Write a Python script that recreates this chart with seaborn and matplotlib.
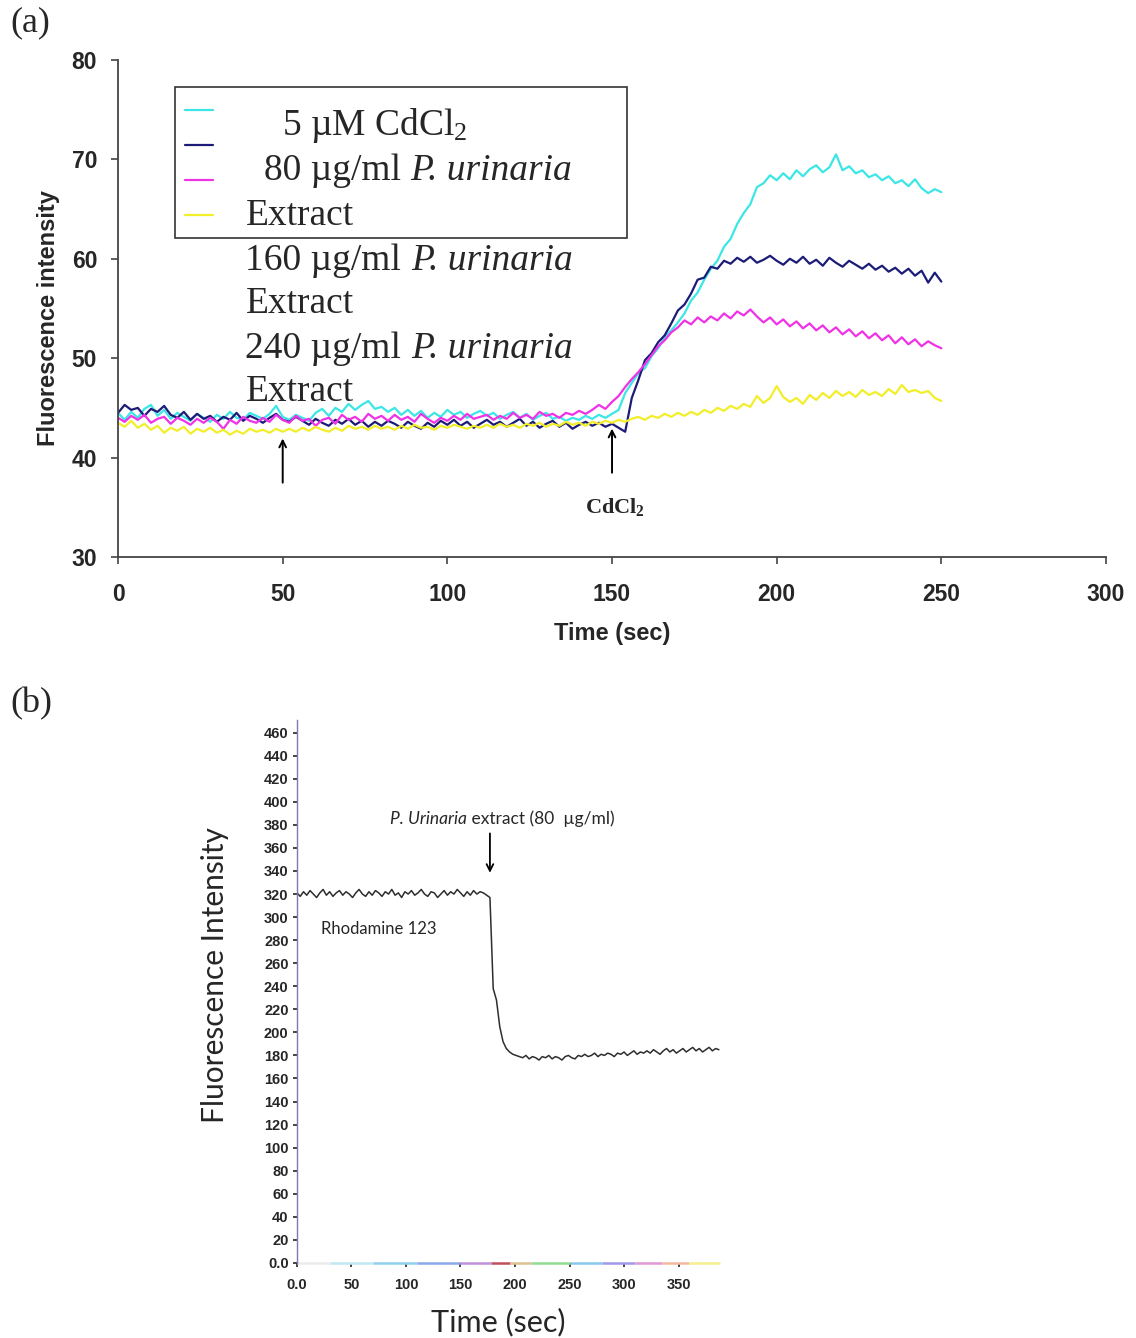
import numpy as np
import pandas as pd
import seaborn as sns
import matplotlib.pyplot as plt
from matplotlib.patches import Rectangle

# ---- panel (a) data: fluorescence vs time, one reading every 2 s ----
time_a = np.arange(0, 251, 2)

cdcl2_5um = [
    44.5, 43.8, 44.6, 44.0, 44.9, 45.3, 44.2, 44.8, 43.9, 44.5, 44.1,
    43.7, 44.4, 44.0, 43.6, 44.3, 43.9, 44.6, 44.0, 43.8, 44.5, 44.2, 43.9, 44.4, 45.2, 44.1,
    43.8, 44.3, 44.0, 43.7, 44.5, 44.9, 44.2, 45.0, 44.6, 45.4, 44.8, 45.3, 45.7, 44.9, 45.1,
    44.6, 45.0, 44.3, 44.8, 44.2, 44.7, 44.0, 44.5, 44.1, 44.8, 44.3, 44.6, 44.0, 44.4, 44.7,
    44.2, 44.5, 43.9, 44.3, 44.6, 44.0, 44.4, 43.8, 44.2, 44.5, 43.9, 44.1, 43.7, 44.0, 43.8,
    44.2, 43.9, 44.3, 44.0, 44.4,
    44.8, 46.5, 47.5, 48.5, 49.0, 50.2, 51.0, 52.1, 52.8, 53.6, 54.5, 55.8, 56.6, 57.9, 59.0,
    59.8, 61.2, 62.0, 63.5, 64.6, 65.5, 67.2, 67.6, 68.4, 67.9,
    68.6, 68.0, 68.9, 68.3, 69.0, 69.4, 68.7, 69.2, 70.5, 68.9, 69.3, 68.6, 68.9, 68.2, 68.5,
    67.9, 68.3, 67.6, 67.9, 67.3, 68.0, 67.1, 66.6, 67.0, 66.7,
]
ext_80 = [
    44.5, 45.3, 44.8, 45.0, 44.2, 44.9, 44.6, 45.2, 44.3, 44.0, 44.6,
    43.8, 44.4, 43.9, 44.2, 43.6, 44.1, 43.8, 44.5, 43.7, 44.2, 43.9, 43.5, 44.0, 44.4, 43.8,
    43.6, 44.1, 43.7, 43.3, 43.9, 43.5, 43.2, 43.8, 43.4, 43.9, 43.3, 43.7, 43.1, 43.6, 43.2,
    43.7, 43.4, 43.0, 43.6, 43.2, 42.9, 43.5, 43.1, 43.7, 43.3, 43.8, 43.2, 43.6, 43.0, 43.4,
    43.8, 43.3, 43.6, 43.1, 43.5, 43.9, 43.2, 43.6, 43.0, 43.4, 43.7, 43.1, 43.5, 42.9, 43.3,
    43.6, 43.2, 43.5, 43.1, 43.4,
    43.0, 42.6, 46.0, 47.8, 49.8, 50.5, 51.6, 52.3, 53.5, 54.8, 55.4, 56.5, 57.9, 58.1, 59.2,
    59.0, 59.8, 59.5, 60.1, 59.7, 60.2, 59.6, 59.9, 60.3, 59.8,
    59.4, 60.0, 59.6, 60.2, 59.5, 59.9, 59.3, 60.1, 59.6, 59.2, 59.8, 59.4, 59.0, 59.5, 58.9,
    59.3, 58.7, 59.1, 58.5, 59.0, 58.3, 58.8, 57.6, 58.6, 57.7,
]
ext_160 = [
    44.0, 43.6, 44.2, 43.8, 44.3, 43.5, 43.9, 44.1, 43.4, 44.0, 43.7,
    43.3, 43.9, 43.5, 44.0, 43.6, 42.9, 43.8, 43.4, 44.1, 43.7, 43.5, 44.0, 43.6, 44.3, 43.8,
    43.5, 44.2, 43.7, 43.9, 43.2, 43.8, 44.0, 43.4, 44.3, 43.8, 44.1, 43.6, 44.4, 43.9, 44.2,
    43.7, 44.3, 43.8, 44.1, 43.6, 44.4, 43.9, 43.5, 44.0, 43.7, 44.2, 43.8, 44.4, 43.9, 44.1,
    44.3, 43.8, 44.2, 43.9, 44.5, 44.0, 44.3, 43.9, 44.6, 44.2, 44.4, 44.0, 44.5, 44.3, 44.7,
    44.4, 44.8, 45.3, 44.9, 45.6,
    46.2, 47.1, 47.9, 48.6, 49.4, 50.3, 51.2, 51.8, 52.6, 53.1, 53.8, 53.4, 54.1, 53.6, 54.2,
    53.8, 54.5, 54.0, 54.7, 54.3, 54.9, 54.2, 53.6, 54.1, 53.4,
    53.9, 53.2, 53.7, 53.0, 53.5, 52.8, 53.3, 52.6, 53.1, 52.4, 52.9, 52.2, 52.7, 52.0, 52.5,
    51.8, 52.3, 51.5, 52.1, 51.4, 51.9, 51.2, 51.7, 51.3, 51.0,
]
ext_240 = [
    43.5, 43.1, 43.7, 43.0, 43.4, 42.8, 43.2, 42.5, 43.0, 42.7, 43.1,
    42.4, 42.9, 42.6, 43.0, 42.5, 42.8, 42.3, 42.7, 42.4, 42.9, 42.6, 42.8, 42.5, 42.9, 42.6,
    42.9, 42.6, 43.0, 42.7, 43.1, 42.8, 42.6, 43.0, 42.7, 43.2, 42.9, 43.1, 42.8, 43.2, 42.9,
    43.1, 42.8, 43.2, 42.9, 43.3, 43.0, 43.1, 42.8, 43.2, 43.0, 43.3, 43.1, 42.9, 43.2, 43.0,
    43.3, 43.0, 43.4, 43.1, 43.3, 43.0, 43.4, 43.2, 43.5, 43.1, 43.4, 43.2, 43.6, 43.3, 43.5,
    43.2, 43.6, 43.4, 43.7, 43.5,
    43.8, 43.6, 43.9, 44.1, 43.8, 44.2, 44.0, 44.4, 44.1, 44.5, 44.2, 44.6, 44.3, 44.8, 44.5,
    45.0, 44.7, 45.2, 44.9, 45.4, 45.1, 46.2, 45.5, 46.0, 47.2,
    46.1, 45.6, 46.0, 45.4, 46.3, 45.8, 46.5, 46.0, 46.7, 46.2, 46.6, 46.1, 46.8, 46.3, 46.6,
    46.2, 46.9, 46.4, 47.3, 46.6, 46.8, 46.5, 46.7, 46.0, 45.7,
]
series_names = ["5uM CdCl2", "80 ug/ml", "160 ug/ml", "240 ug/ml"]
series_colors = ["#3ce6e6", "#1c1c78", "#f032e6", "#f2ee2a"]

# ---- panel (b) data: rhodamine 123, one reading every 3 s ----
time_b = np.arange(0, 388, 3)
rhodamine = [
    321, 318, 322, 319, 323, 320, 317, 321, 324, 319,
    322, 318, 321, 323, 319, 322, 320, 317, 321, 324,
    320, 318, 322, 319, 323, 321, 318, 322, 320, 324,
    319, 321, 317, 322, 320, 323, 319, 321, 324, 320,
    318, 322, 321, 317, 320, 323, 319, 322, 320, 324,
    321, 318, 322, 319, 323, 320, 322, 321, 319,
    317, 238, 228, 205, 192, 186, 183, 181, 180,
    179, 178, 180, 177, 179, 178, 176, 179, 178, 180,
    177, 179, 178, 176, 179, 180, 178, 177, 180, 179,
    181, 179, 180, 182, 179, 181, 180, 182, 181, 179,
    182, 181, 183, 180, 182, 184, 181, 183, 182, 184,
    182, 185, 183, 181, 184, 186, 183, 185, 182, 184,
    186, 183, 185, 187, 184, 186, 183, 185, 187, 184,
    186, 185,
]
yticks_b = list(range(0, 461, 20))
ytick_labels_b = ["0.0"] + [str(v) for v in yticks_b[1:]]
xticks_b = list(range(0, 351, 50))
xtick_labels_b = ["0.0"] + [str(v) for v in xticks_b[1:]]

df_a = pd.DataFrame({
    "time": np.tile(time_a, 4),
    "value": cdcl2_5um + ext_80 + ext_160 + ext_240,
    "series": np.repeat(series_names, len(time_a)),
})
df_b = pd.DataFrame({"time": time_b, "value": rhodamine})

sns.set_theme(style="ticks")
plt.rcParams["font.family"] = ["Liberation Sans", "DejaVu Sans"]
plt.rcParams["mathtext.fontset"] = "custom"
plt.rcParams["mathtext.rm"] = "Liberation Serif"
plt.rcParams["mathtext.it"] = "Liberation Serif:italic"
plt.rcParams["mathtext.bf"] = "Liberation Serif:bold"

fig = plt.figure(figsize=(11.36, 13.38), dpi=100)
renderer = fig.canvas.get_renderer()
serif = "Liberation Serif"
calib = ["Lato", "DejaVu Sans"]


def text_run(axis, x, y, pieces, transform, **kw):
    """write pieces (text, style) one after the other on a shared baseline"""
    x_disp, y_disp = transform.transform((x, y))
    for txt, style in pieces:
        t = axis.text(0, 0, txt, style=style, ha="left", va="baseline", **kw)
        t.set_transform(plt.matplotlib.transforms.IdentityTransform())
        t.set_position((x_disp, y_disp))
        x_disp = t.get_window_extent(renderer).x1


# ================= panel (a) =================
ax = fig.add_axes([0.1039, 0.5837, 0.8697, 0.3715])
sns.lineplot(data=df_a, x="time", y="value", hue="series", palette=series_colors,
             hue_order=series_names, linewidth=1.6, legend=False, ax=ax, estimator=None)
ax.set_xlim(0, 300)
ax.set_ylim(30, 80)
ax.set_xticks(range(0, 301, 50))
ax.set_yticks(range(30, 81, 10))
for s in ["top", "right"]:
    ax.spines[s].set_visible(False)
for s in ["left", "bottom"]:
    ax.spines[s].set_color("#444444")
    ax.spines[s].set_linewidth(1.3)
ax.tick_params(direction="out", length=5, width=1.2, color="#444444", labelsize=16.5)
ax.tick_params(axis="x", pad=14)
ax.tick_params(axis="y", pad=10)
for lab in ax.get_xticklabels() + ax.get_yticklabels():
    lab.set_fontweight("bold")
ax.set_xlabel("")
ax.set_ylabel("Fluorescence intensity", fontsize=17, fontweight="bold")
ax.yaxis.set_label_coords(-0.059, 0.48)
ax.text(150, 22.3, "Time (sec)", fontsize=17, fontweight="bold", ha="center", va="center")

# arrows and CdCl2 marker
ax.annotate("", xy=(50, 42.2), xytext=(50, 37.2),
            arrowprops=dict(arrowstyle="->", color="black", lw=1.4))
ax.annotate("", xy=(150, 43.2), xytext=(150, 38.2),
            arrowprops=dict(arrowstyle="->", color="black", lw=1.4))
ax.text(151, 35.0, r"CdCl$_\mathbf{2}$", fontsize=16, fontweight="bold",
        family=serif, ha="center", va="center")

# legend box with overflowing labels
ax.add_patch(Rectangle((0.0577, 0.6419), 0.4573, 0.3038, transform=ax.transAxes,
                       fill=False, edgecolor="#333333", lw=1.2, zorder=5))
for yy, col in zip([0.899, 0.829, 0.758, 0.688], series_colors):
    ax.plot([0.068, 0.096], [yy, yy], color=col, lw=1.6, transform=ax.transAxes, zorder=6)
leg_lines = [
    (0.166, 0.849, [(r"5 µM CdCl$_2$", "normal")]),
    (0.148, 0.759, [("80 µg/ml ", "normal"), ("P. urinaria", "italic")]),
    (0.129, 0.668, [("Extract", "normal")]),
    (0.129, 0.578, [("160 µg/ml ", "normal"), ("P. urinaria", "italic")]),
    (0.129, 0.491, [("Extract", "normal")]),
    (0.129, 0.401, [("240 µg/ml ", "normal"), ("P. urinaria", "italic")]),
    (0.129, 0.314, [("Extract", "normal")]),
]
for lx, ly, pieces in leg_lines:
    text_run(ax, lx, ly, pieces, ax.transAxes, fontsize=27, family=serif, zorder=6)

fig.text(0.009, 0.983, "(a)", fontsize=26, family=serif, ha="left", va="center")
fig.text(0.009, 0.474, "(b)", fontsize=26, family=serif, ha="left", va="center")

# ================= panel (b) =================
bx = fig.add_axes([0.2614, 0.0561, 0.3724, 0.4058])
sns.lineplot(data=df_b, x="time", y="value", color="#2e2e2e", linewidth=1.1,
             ax=bx, estimator=None)
bx.set_xlim(0, 388)
bx.set_ylim(0, 471)
bx.set_yticks(yticks_b)
bx.set_yticklabels(ytick_labels_b)
bx.set_xticks(xticks_b)
bx.set_xticklabels(xtick_labels_b)
for s in ["top", "right", "bottom"]:
    bx.spines[s].set_visible(False)
bx.spines["left"].set_color("#7a7ab8")
bx.spines["left"].set_linewidth(1.0)
bx.tick_params(direction="out", length=3, width=1.2, labelsize=10.5)
bx.tick_params(axis="x", pad=8)
bx.tick_params(axis="y", pad=3)
for lab in bx.get_xticklabels() + bx.get_yticklabels():
    lab.set_fontweight("bold")
tick_cols = ["#d8c020", "#5050a0", "#c0a030", "#40a0c0", "#8060b0", "#a0a020", "#3060a0"]
for i, t in enumerate(bx.yaxis.get_major_ticks()):
    t.tick1line.set_color(tick_cols[i % len(tick_cols)])
for i, t in enumerate(bx.xaxis.get_major_ticks()):
    t.tick1line.set_color(tick_cols[(i + 3) % len(tick_cols)])

# rainbow-coloured time axis as in the instrument print-out
band_edges = [0, 30, 70, 110, 150, 178, 195, 215, 250, 280, 310, 335, 360, 388]
band_cols = ["#ececec", "#bfe8f2", "#8fd0ee", "#8aa8e8", "#c090dc", "#c05060",
             "#dcc090", "#90dc90", "#88c8ec", "#a098ea", "#e098d4", "#f4b8a0", "#f4f08c"]
for x0, x1, c in zip(band_edges[:-1], band_edges[1:], band_cols):
    bx.plot([x0, x1], [0, 0], color=c, lw=1.8, clip_on=False, solid_capstyle="butt")

bx.set_xlabel("")
bx.set_ylabel("")
fig.text(0.1893, 0.271, "Fluorescence Intensity", fontsize=21.5, family=calib,
         rotation=90, ha="center", va="center")
fig.text(0.4385, 0.012, "Time (sec)", fontsize=22, family=calib,
         ha="center", va="center")
bx.text(22, 290, "Rhodamine 123", fontsize=12, family=calib, ha="left", va="center")
text_run(bx, 85, 381, [("P. Urinaria", "italic"), (" extract (80  µg/ml)", "normal")],
         bx.transData, fontsize=12.5, family=calib)
bx.annotate("", xy=(177, 336), xytext=(177, 375),
            arrowprops=dict(arrowstyle="->", color="black", lw=1.3))

fig.savefig("out.png", dpi=100, facecolor="white")
